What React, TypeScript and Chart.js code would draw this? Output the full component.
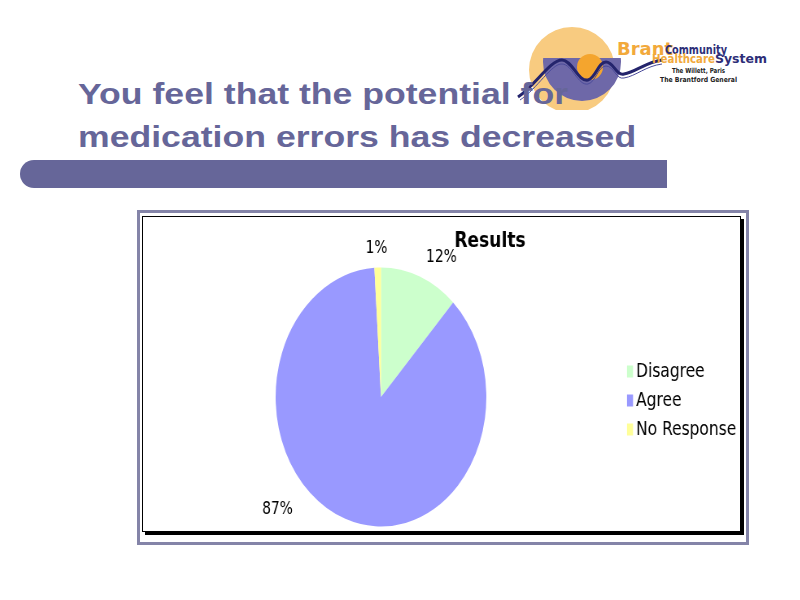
import React, { useEffect, useRef } from "react";
import { Chart, registerables } from "chart.js";

Chart.register(...registerables);

// ---- data ----
const categories = ["Disagree", "Agree", "No Response"];
const values = [12, 87, 1];
const sliceColors = ["#CCFFCC", "#9999FF", "#FFFF99"];
const chartTitle = "Results";
const slideTitleLines = ["You feel that the potential for", "medication errors has decreased"];

// ---- layout (canvas drawn unsquashed, then compressed horizontally like the pasted picture) ----
const CW = 735;
const CH = 315;
const SX = 0.8136;
const PIE = { cx: 292.5, cy: 180, r: 129.5 };
const LABEL_SHIFT_DEG = [6.5, 28.8, -0.35];
const LABEL_DIST = [1.217, 1.309, 1.144];
const LEGEND_POS = { left: 579.5, top: 136 };
const LEGEND_FONT = 19;
const LEGEND_BOX_W = 7;
const TITLE_POS = { cx: 426.5, top: 11.8, lineHeight: 26.4 };

const fixedLayoutPlugin = {
  id: "fixedLayout",
  afterLayout(chart: any) {
    const { cx, cy, r } = PIE;
    chart.chartArea = {
      left: cx - r,
      top: cy - r,
      right: cx + r,
      bottom: cy + r,
      width: 2 * r,
      height: 2 * r,
    };
    const lg = chart.legend;
    if (lg) {
      lg.left = LEGEND_POS.left;
      lg.top = LEGEND_POS.top;
      lg.right = CW;
      lg.bottom = CH;
      lg.width = CW - LEGEND_POS.left;
      lg.height = CH - LEGEND_POS.top;
    }
    const tb = chart.titleBlock;
    if (tb) {
      tb.left = TITLE_POS.cx - 100;
      tb.right = TITLE_POS.cx + 100;
      tb.width = 200;
      tb.top = TITLE_POS.top;
      tb.bottom = TITLE_POS.top + TITLE_POS.lineHeight;
      tb.height = TITLE_POS.lineHeight;
    }
  },
};

// legend swatches drawn tight to the text, as in the pasted Excel picture
const legendSwatchPlugin = {
  id: "legendSwatches",
  afterDraw(chart: any) {
    const lg = chart.legend;
    if (!lg || !lg.legendHitBoxes) return;
    const ctx = chart.ctx;
    ctx.save();
    lg.legendHitBoxes.forEach((hb: any, i: number) => {
      const textStart = hb.left + LEGEND_BOX_W + LEGEND_FONT / 2;
      const cy = hb.top + hb.height / 2 - 1;
      ctx.fillStyle = sliceColors[i];
      ctx.fillRect(textStart - 11.1, cy - 6, 7.4, 12);
    });
    ctx.restore();
  },
};

const percentLabelPlugin = {
  id: "percentLabels",
  afterDatasetsDraw(chart: any) {
    const ctx = chart.ctx;
    const meta = chart.getDatasetMeta(0);
    const total = values.reduce((a, b) => a + b, 0);
    ctx.save();
    ctx.font = '17px "DejaVu Sans"';
    ctx.fillStyle = "#000";
    ctx.textAlign = "center";
    ctx.textBaseline = "middle";
    meta.data.forEach((arc: any, i: number) => {
      const p = arc.getProps(["x", "y", "startAngle", "endAngle", "outerRadius"], true);
      const a = (p.startAngle + p.endAngle) / 2 + (LABEL_SHIFT_DEG[i] * Math.PI) / 180;
      const d = p.outerRadius * LABEL_DIST[i];
      const txt = Math.round((values[i] / total) * 100) + "%";
      ctx.fillText(txt, p.x + d * Math.cos(a), p.y + d * Math.sin(a));
    });
    ctx.restore();
  },
};

function PieChart() {
  const ref = useRef<HTMLCanvasElement | null>(null);
  useEffect(() => {
    if (!ref.current) return;
    const chart = new Chart(ref.current, {
      type: "pie",
      data: {
        labels: categories,
        datasets: [
          {
            data: values,
            backgroundColor: sliceColors,
            borderColor: sliceColors,
            borderWidth: 0,
          },
        ],
      },
      options: {
        responsive: false,
        animation: false,
        events: [],
        layout: { padding: 0 },
        plugins: {
          tooltip: { enabled: false },
          title: {
            display: true,
            text: chartTitle,
            color: "#000",
            padding: 0,
            font: { family: "DejaVu Sans", size: 21, weight: "bold", lineHeight: 1.2 },
          },
          legend: {
            display: true,
            position: "right",
            align: "start",
            labels: {
              boxWidth: LEGEND_BOX_W,
              boxHeight: 12,
              padding: 10,
              color: "#000",
              font: { family: "DejaVu Sans", size: LEGEND_FONT },
              generateLabels: (chart: any) => {
                const base = Chart.overrides.pie.plugins.legend.labels.generateLabels(chart);
                return base.map((it: any) => ({
                  ...it,
                  fillStyle: "rgba(0,0,0,0)",
                  strokeStyle: "rgba(0,0,0,0)",
                  lineWidth: 0,
                }));
              },
            },
          },
        },
      } as any,
      plugins: [fixedLayoutPlugin, percentLabelPlugin, legendSwatchPlugin],
    });
    return () => chart.destroy();
  }, []);

  return (
    <div
      style={{
        position: "absolute",
        left: 143,
        top: 217,
        width: CW,
        height: CH,
        transform: `scaleX(${SX})`,
        transformOrigin: "0 0",
      }}
    >
      <canvas ref={ref} width={CW} height={CH} style={{ width: CW, height: CH, display: "block" }} />
    </div>
  );
}

function Logo() {
  return (
    <svg
      style={{ position: "absolute", left: 500, top: 20 }}
      width={280}
      height={90}
      viewBox="500 20 280 90"
    >
      <defs>
        <clipPath id="lowerHalf">
          <rect x={500} y={58} width={200} height={60} />
        </clipPath>
      </defs>
      <circle cx={572} cy={70} r={43} fill="#F8CB80" />
      <circle cx={582} cy={62} r={39} fill="#6E68A8" clipPath="url(#lowerHalf)" />
      <circle cx={590} cy={67} r={13} fill="#F4A52E" />
      <path
        d="M 518 97 C 535 86, 550 60, 562 60 C 572 60, 578 82, 588 80 C 596 78, 598 62, 606 62 C 614 62, 616 76, 624 74 C 636 72, 646 62, 662 60"
        fill="none"
        stroke="#24246C"
        strokeWidth={3}
      />
      <path
        d="M 520 100 C 537 89, 552 63, 562 64 C 572 64, 578 86, 588 84 C 596 82, 598 66, 606 66 C 614 66, 616 80, 624 78 C 636 76, 646 66, 662 64"
        fill="none"
        stroke="#4B4B9A"
        strokeWidth={1}
      />
      <text x={617} y={55} fontFamily="DejaVu Sans" fontWeight="bold" fontSize={18} fill="#F2A93B" textLength={56} lengthAdjust="spacingAndGlyphs">Brant</text>
      <text x={665} y={54} fontFamily="DejaVu Sans" fontWeight="bold" fontSize={12} fill="#2E2E78" textLength={62} lengthAdjust="spacingAndGlyphs">Community</text>
      <text x={652} y={63} fontFamily="DejaVu Sans" fontWeight="bold" fontSize={13} fill="#F2A93B" textLength={63} lengthAdjust="spacingAndGlyphs">Healthcare</text>
      <text x={715} y={63} fontFamily="DejaVu Sans" fontWeight="bold" fontSize={12} fill="#2E2E78" textLength={52} lengthAdjust="spacingAndGlyphs">System</text>
      <text x={672} y={73} fontFamily="DejaVu Sans" fontWeight="bold" fontSize={7} fill="#222" textLength={53} lengthAdjust="spacingAndGlyphs">The Willett, Paris</text>
      <text x={660} y={82} fontFamily="DejaVu Sans" fontWeight="bold" fontSize={7} fill="#222" textLength={77} lengthAdjust="spacingAndGlyphs">The Brantford General</text>
    </svg>
  );
}

export default function App() {
  return (
    <div
      style={{
        position: "fixed",
        left: 0,
        top: 0,
        width: 800,
        height: 600,
        background: "#fff",
        overflow: "hidden",
      }}
    >
      <Logo />
      <div
        style={{
          position: "absolute",
          left: 78,
          top: 72.5,
          fontFamily: '"Liberation Sans", Arial, sans-serif',
          fontWeight: "bold",
          fontSize: 29,
          lineHeight: "43px",
          color: "#666699",
          whiteSpace: "nowrap",
          transform: "scaleX(1.228)",
          transformOrigin: "0 0",
        }}
      >
        {slideTitleLines.map((l, i) => (
          <div key={i}>{l}</div>
        ))}
      </div>
      <div
        style={{
          position: "absolute",
          left: 20,
          top: 160,
          width: 647,
          height: 28,
          background: "#666699",
          borderRadius: "14px 0 0 14px",
        }}
      />
      <div
        style={{
          position: "absolute",
          left: 137,
          top: 210,
          width: 612,
          height: 335,
          boxSizing: "border-box",
          border: "3px solid #8484A8",
          background: "#fff",
        }}
      />
      <div
        style={{
          position: "absolute",
          left: 142,
          top: 216,
          width: 599,
          height: 316,
          boxSizing: "border-box",
          border: "1px solid #000",
          boxShadow: "3px 3px 0 0 #000",
          background: "#fff",
        }}
      />
      <PieChart />
    </div>
  );
}
